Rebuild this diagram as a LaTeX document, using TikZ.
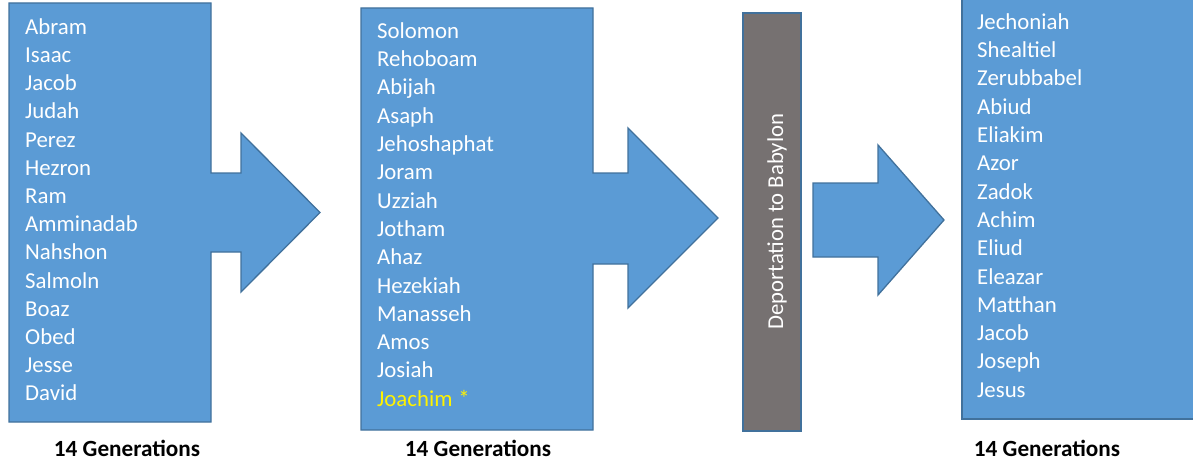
\documentclass[tikz,border=0pt]{standalone}
\usepackage{fontspec}
\setmainfont{Carlito}
\definecolor{blockblue}{HTML}{5B9BD5}
\definecolor{blockline}{HTML}{41719C}
\definecolor{exilegray}{HTML}{767171}

\begin{document}
\begin{tikzpicture}[x=1pt, y=-1pt,
    block/.style={fill=blockblue, draw=blockline, line width=1.3pt},
    kin/.style={anchor=base west, inner sep=0pt, text=white, font=\fontsize{22.8}{27}\selectfont},
    gen/.style={anchor=base, inner sep=0pt, font=\fontsize{23.2}{27}\selectfont\bfseries}]

    \useasboundingbox (0,0) rectangle (1193,460);
    \clip (0,0) rectangle (1193,460);

    \draw[block] (9,3) -- (211,3) -- (211,173) -- (241,173) -- (241,133) -- (320,212.5)
        -- (241,292) -- (241,252) -- (211,252) -- (211,422) -- (9,422) -- cycle;
    \draw[block] (361,8) -- (593,8) -- (593,173) -- (628,173) -- (628,128) -- (718,218)
        -- (628,308) -- (628,264) -- (593,264) -- (593,430) -- (361,430) -- cycle;
    \draw[fill=exilegray, draw=blockline, line width=1.3pt] (743,13) rectangle (801,431);
    \draw[block] (813,183) -- (878,183) -- (878,145) -- (944,220) -- (878,295)
        -- (878,257) -- (813,257) -- cycle;
    \draw[block] (962,-5) rectangle (1200,419);

    \foreach \n [count=\i from 0] in {Abram, Isaac, Jacob, Judah, Perez, Hezron, Ram,
        Amminadab, Nahshon, Salmoln, Boaz, Obed, Jesse, David}
        \node[kin] (a\i) at (25, 34.3+28.2*\i) {\n};

    \foreach \n [count=\i from 0] in {Solomon, Rehoboam, Abijah, Asaph, Jehoshaphat, Joram,
        Uzziah, Jotham, Ahaz, Hezekiah, Manasseh, Amos, Josiah}
        \node[kin] (b\i) at (377, 38.3+28.3*\i) {\n};
    \node[kin, text=yellow] (b13) at (377, 406.2) {Joachim\hspace{6pt}*};

    \node[anchor=base, inner sep=0pt, text=white, rotate=90,
        font=\fontsize{22.7}{27}\selectfont] (exile) at (783, 221.5) {Deportation to Babylon};

    \foreach \n [count=\i from 0] in {Jechoniah, Shealtiel, Zerubbabel, Abiud, Eliakim, Azor,
        Zadok, Achim, Eliud, Eleazar, Matthan, Jacob, Joseph, Jesus}
        \node[kin] (c\i) at (977, 29.3+28.3*\i) {\n};

    \node[gen] (g1) at (127,456) {14 Generations};
    \node[gen] (g2) at (478,456) {14 Generations};
    \node[gen] (g3) at (1047,456) {14 Generations};
\end{tikzpicture}
\end{document}
